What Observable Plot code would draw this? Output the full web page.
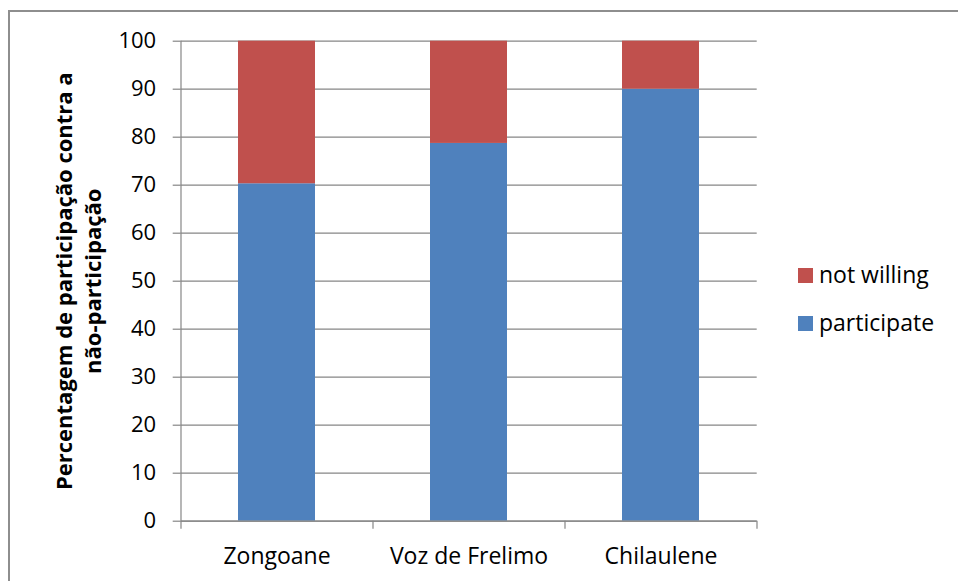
<!DOCTYPE html>
<html>
<head>
<meta charset="utf-8">
<script src="https://cdn.jsdelivr.net/npm/d3@7"></script>
<script src="https://cdn.jsdelivr.net/npm/@observablehq/plot@0.6"></script>
<style>
  html, body { margin: 0; padding: 0; background: #fff; }
  #wrap { position: relative; width: 958px; height: 581px; overflow: hidden; font-family: "Open Sans", sans-serif; }
  #wrap > svg.plot { position: absolute; left: 0; top: 0; }
  #frame { position: absolute; left: 8px; top: 10px; width: 980px; height: 620px; border: 2px solid #8e8e8e; box-sizing: border-box; pointer-events: none; }
  #legend { position: absolute; left: 0; top: 0; }
</style>
</head>
<body>
<div id="wrap"><div id="frame"></div></div>
<script>
// Survey sites and the share of respondents in each answer group (%)
const sites = ["Zongoane", "Voz de Frelimo", "Chilaulene"];
const participate = [70.3, 78.7, 90];
const notWilling = [29.7, 21.3, 10];
const series = ["participate", "not willing"];
const seriesColors = ["#4F81BD", "#C0504D"];
const yTicks = [0, 10, 20, 30, 40, 50, 60, 70, 80, 90, 100];
const yTitle = ["Percentagem de participação contra a", "não-participação"];

const rows = [
  ...sites.map((site, i) => ({site, series: series[0], value: participate[i]})),
  ...sites.map((site, i) => ({site, series: series[1], value: notWilling[i]}))
];

const W = 958, H = 581;
const mL = 180.7, mR = 201.3, mT = 40.7, mB = 60.3;
const step = (W - mL - mR) / sites.length;
const grey = "#868686";

const chart = Plot.plot({
  width: W,
  height: H,
  marginLeft: mL,
  marginRight: mR,
  marginTop: mT,
  marginBottom: mB,
  style: {background: "none", fontFamily: "'Open Sans', sans-serif", color: "#000"},
  x: {domain: sites, paddingInner: 0.6, paddingOuter: 0.3, label: null},
  y: {domain: [0, 100], label: null},
  color: {domain: series, range: seriesColors},
  marks: [
    Plot.gridY(yTicks, {stroke: grey, strokeOpacity: 1, strokeWidth: 1.2}),
    Plot.axisY(yTicks, {tickSize: 8, tickPadding: 17, stroke: grey, strokeOpacity: 1, strokeWidth: 1.2, fill: "#000", fontSize: 22, label: null}),
    Plot.barY(rows, {x: "site", y: "value", fill: "series"}),
    Plot.ruleY([0], {stroke: grey, strokeWidth: 1.2}),
    Plot.ruleX([sites[0]], {dx: -step / 2, stroke: grey, strokeWidth: 1.2}),
    // category boundary ticks below the baseline
    Plot.axisX(sites, {tickSize: 8, dx: -step / 2, tickFormat: () => "", stroke: grey, strokeOpacity: 1, strokeWidth: 1.2, label: null}),
    Plot.axisX([sites[sites.length - 1]], {tickSize: 8, dx: step / 2, tickFormat: () => "", stroke: grey, strokeOpacity: 1, strokeWidth: 1.2, label: null}),
    Plot.axisX(sites, {tickSize: 0, tickPadding: 26, fontSize: 23, fill: "#000", label: null}),
    Plot.text([yTitle.join("\n")], {
      frameAnchor: "left", rotate: -90, dx: -104,
      fontWeight: "bold", fontSize: 22, lineHeight: 1.3,
      textAnchor: "middle", lineAnchor: "middle", fill: "#000"
    })
  ]
});
chart.classList.add("plot");
const wrap = document.getElementById("wrap");
wrap.insertBefore(chart, wrap.firstChild);

// Legend, listed top-down in reverse stacking order
const legend = d3.select(wrap).append("svg")
  .attr("id", "legend").attr("width", W).attr("height", H);
const items = series.map((s, i) => ({s, c: seriesColors[i]})).reverse();
const g = legend.selectAll("g").data(items).join("g")
  .attr("transform", (d, i) => `translate(798, ${268 + i * 48})`);
g.append("rect").attr("width", 15).attr("height", 15).attr("fill", d => d.c);
g.append("text").attr("x", 21).attr("y", 15)
  .attr("font-family", "'Open Sans', sans-serif").attr("font-size", 23).attr("fill", "#000")
  .text(d => d.s);
</script>
</body>
</html>
